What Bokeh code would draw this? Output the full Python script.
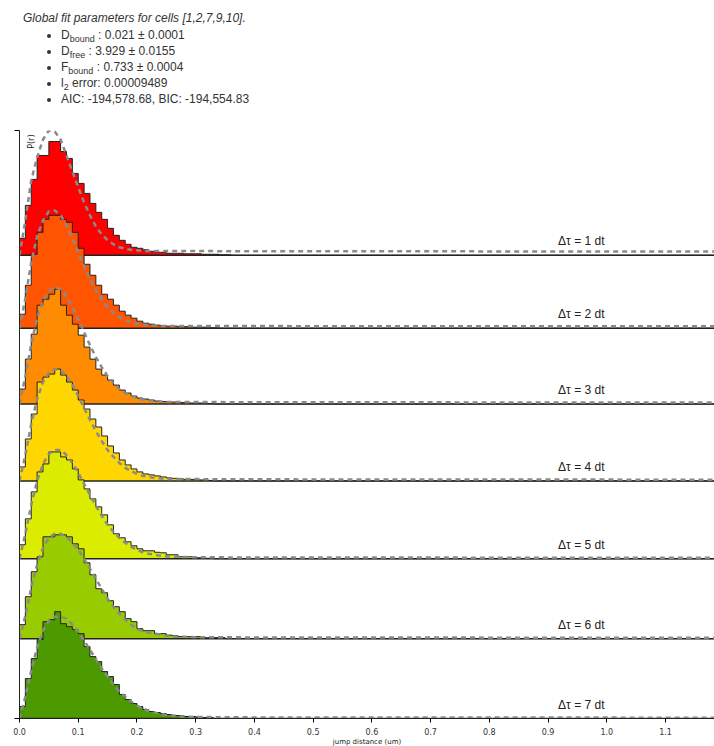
import numpy as np
from bokeh.plotting import figure
from bokeh.models import Div, Label, FixedTicker, NumeralTickFormatter
from bokeh.layouts import column
from bokeh.embed import file_html
from bokeh.resources import INLINE

# ---------------- data ----------------
bin_width = 0.01
dt_labels = ["Δτ = 1 dt", "Δτ = 2 dt", "Δτ = 3 dt", "Δτ = 4 dt",
             "Δτ = 5 dt", "Δτ = 6 dt", "Δτ = 7 dt"]
colors = ["#ff0000", "#ff5500", "#ff8c00", "#ffd700", "#dcec00", "#99cc00", "#4c9a00"]
offsets = [464, 391, 315, 238, 160, 80, 0]
x_ticks = [0.0, 0.1, 0.2, 0.3, 0.4, 0.5, 0.6, 0.7, 0.8, 0.9, 1.0, 1.1]

hist_1 = [17, 50, 76, 100, 100, 114, 114, 104, 97, 82, 72, 62, 52, 43, 36, 27, 20, 15,
          11, 8, 7, 5.5, 4, 3, 3, 2, 2, 2, 1.5, 1.5, 1.5, 1, 1, 1, 0.5, 0.5]
hist_2 = [14, 43, 74, 96, 109, 113, 113, 109, 106, 96, 80, 64, 53, 43, 34, 29, 23, 17,
          13, 10, 7, 5, 4, 3, 2.5, 2, 2, 1.5, 1.5, 1, 1, 1, 0.5, 0.5]
hist_3 = [15, 45, 70, 99, 105, 110, 115, 99, 89, 80, 69, 57, 45, 35, 29, 24, 19, 14,
          11, 8, 6, 5, 4, 3, 2.5, 2, 2, 1.5, 1.5, 1, 1, 1, 0.5]
hist_4 = [14, 42, 67, 99, 104, 107, 112, 106, 99, 91, 81, 72, 62, 54, 45, 35, 28, 21,
          16, 12, 9, 7, 6, 5, 4, 3, 2.5, 2, 1.5, 1.5, 1, 1, 0.5]
hist_5 = [14, 40, 67, 87, 95, 107, 107, 102, 99, 90, 79, 70, 60, 52, 44, 34, 25, 21,
          17, 13, 10, 8, 8, 6.5, 6, 4, 4, 2, 2, 2, 1, 0.5, 0.5]
hist_6 = [14, 42, 67, 82, 102, 102, 104, 104, 102, 95, 90, 76, 64, 50, 46, 38, 32, 27,
          20, 17, 10, 8, 8, 5, 5, 3.5, 3, 2, 2, 2, 2, 1, 1, 1, 1]
hist_7 = [12, 40, 60, 79, 97, 99, 107, 95, 92, 89, 85, 72, 62, 57, 47, 42, 34, 24,
          19, 15, 12, 9, 7, 6, 5, 4, 3, 3, 2, 2, 1.5, 1, 1]

model_x = [0.00, 0.01, 0.02, 0.03, 0.04, 0.05, 0.06, 0.07, 0.08, 0.09, 0.10,
           0.11, 0.12, 0.13, 0.14, 0.15, 0.16, 0.17, 0.18, 0.19, 0.20,
           0.21, 0.22, 0.23, 0.24, 0.25, 0.26, 0.27, 0.28, 0.29, 0.30,
           0.4, 0.5, 0.6, 0.7, 0.8, 0.9, 1.0, 1.1, 1.2]
model_1 = [0, 35, 75, 98, 116, 125, 124, 116, 100, 84, 68, 53, 40, 29, 21, 15, 11, 8,
           6.5, 5.5, 5, 4.5, 4.2, 4.2, 4.2, 4.2, 4.2, 4.2, 4.2, 4.2, 4.2,
           4.1, 4, 4, 4, 3.9, 3.9, 3.8, 3.8, 3.7]
model_2 = [0, 30, 66, 92, 108, 117, 118, 113, 103, 90, 76, 62, 49, 38, 29, 21, 15, 11,
           8, 6, 4.5, 3.5, 3, 2.5, 2.2, 2.2, 2.2, 2.2, 2.2, 2.2, 2.2,
           2.1, 2, 2, 2, 2, 1.9, 1.9, 1.8, 1.8]
model_3 = [0, 28, 60, 86, 103, 113, 117, 115, 108, 97, 85, 72, 59, 47, 37, 28, 21, 15,
           11, 8, 6, 4.5, 3.5, 3, 2.5, 2, 2, 2, 2, 2, 2,
           1.8, 1.8, 1.7, 1.7, 1.6, 1.6, 1.5, 1.5, 1.5]
model_4 = [0, 26, 57, 82, 99, 108, 112, 111, 105, 96, 85, 73, 61, 50, 40, 31, 24, 18,
           13, 10, 7, 5, 4, 3, 2.5, 2, 2, 2, 1.8, 1.8, 1.8,
           1.6, 1.5, 1.5, 1.4, 1.4, 1.3, 1.3, 1.2, 1.2]
model_5 = [0, 25, 54, 78, 95, 105, 109, 109, 104, 96, 86, 75, 64, 53, 43, 34, 27, 21,
           16, 12, 9, 6.5, 5, 4, 3, 2.5, 2, 2, 1.8, 1.6, 1.5,
           1.3, 1.3, 1.2, 1.2, 1.1, 1.1, 1, 1, 1]
model_6 = [0, 23, 51, 74, 91, 101, 105, 105, 102, 96, 89, 80, 70, 60, 50, 40, 32, 25,
           19, 14, 10, 7.5, 6, 5, 4, 3, 2.5, 2, 1.8, 1.6, 1.5,
           1.2, 1.2, 1.1, 1.1, 1, 1, 1, 0.9, 0.9]
model_7 = [0, 22, 48, 71, 88, 98, 102, 102, 100, 94, 87, 78, 69, 59, 50, 42, 34, 27,
           22, 17, 13, 10, 7.5, 6, 4.5, 3.5, 3, 2.5, 2, 1.8, 1.5,
           1.1, 1, 1, 1, 0.9, 0.9, 0.9, 0.8, 0.8]

hists = [hist_1, hist_2, hist_3, hist_4, hist_5, hist_6, hist_7]
models = [model_1, model_2, model_3, model_4, model_5, model_6, model_7]
n_bins = 120
y_top = 589
x_end = 1.1834

# ---------------- header text ----------------
sub = 'style="font-size:9px;line-height:0;vertical-align:-3px;"'
li = 'style="height:16px;line-height:16px;"'
header = Div(
    width=714, height=108,
    text=f"""
<div style="box-sizing:border-box;height:108px;overflow:hidden;padding-top:5px;
font-family:'Liberation Sans',Arial,sans-serif;font-size:12px;color:#333;line-height:16px;">
<div style="padding-left:18px;font-style:italic;height:16px;">Global fit parameters for cells [1,2,7,9,10].</div>
<ul style="margin:1px 0 0 0;padding-left:56px;">
<li {li}>D<sub {sub}>bound</sub> : 0.021 &plusmn; 0.0001</li>
<li {li}>D<sub {sub}>free</sub> : 3.929 &plusmn; 0.0155</li>
<li {li}>F<sub {sub}>bound</sub> : 0.733 &plusmn; 0.0004</li>
<li {li}>l<sub {sub}>2</sub> error: 0.00009489</li>
<li {li}>AIC: -194,578.68, BIC: -194,554.83</li>
</ul>
</div>
""")

# ---------------- figure ----------------
p = figure(width=714, height=630, x_range=(0, x_end), y_range=(0, y_top),
           output_backend="svg", toolbar_location=None,
           min_border_left=19, min_border_right=0, min_border_top=12, min_border_bottom=29)
p.outline_line_color = None
p.xgrid.visible = False
p.ygrid.visible = False
p.background_fill_color = "white"

for k in range(7):
    h = np.zeros(n_bins)
    h[:len(hists[k])] = hists[k]
    edges = np.arange(n_bins + 1) * bin_width
    xs = np.concatenate([[0.0], np.repeat(edges, 2)[1:-1]])
    ys = np.concatenate([[0.0], np.repeat(h, 2)])
    base = offsets[k]
    p.varea(x=xs, y1=np.full(len(xs), base), y2=ys + base, fill_color=colors[k])
    p.line(xs, ys + base, line_color="#222222", line_width=1)
    p.line([0, x_end], [base, base], line_color="#222222", line_width=1.5)
    p.line(model_x, np.array(models[k]) + base, line_color="#8a8a8a",
           line_width=2.5, line_dash="5 4")
    p.add_layout(Label(x=0.917, y=base, y_offset=7, text=dt_labels[k],
                       text_font="Liberation Sans", text_font_size="12px",
                       text_color="#222222", text_baseline="bottom", text_align="left"))

# axes
p.xaxis.ticker = FixedTicker(ticks=x_ticks)
p.xaxis.formatter = NumeralTickFormatter(format="0.0")
p.xaxis.major_label_text_font = "DejaVu Sans"
p.xaxis.major_label_text_font_size = "8px"
p.xaxis.major_label_text_color = "#333333"
p.xaxis.major_tick_out = 4
p.xaxis.major_tick_in = 0
p.xaxis.minor_tick_out = 0
p.xaxis.minor_tick_in = 0
p.xaxis.major_label_standoff = 5
p.xaxis.axis_line_color = "#222222"
p.xaxis.axis_label = "jump distance (um)"
p.xaxis.axis_label_text_font = "DejaVu Sans"
p.xaxis.axis_label_text_font_size = "7px"
p.xaxis.axis_label_text_font_style = "normal"
p.xaxis.axis_label_text_color = "#222222"
p.xaxis.axis_label_standoff = 0

p.yaxis.ticker = FixedTicker(ticks=[0, y_top])
p.yaxis.major_label_overrides = {0: "", y_top: ""}
p.yaxis.major_label_text_color = None
p.yaxis.major_label_text_font_size = "8px"
p.yaxis.major_label_standoff = 0
p.yaxis.major_tick_out = 5
p.yaxis.major_tick_in = 0
p.yaxis.minor_tick_out = 0
p.yaxis.minor_tick_in = 0
p.yaxis.axis_line_color = "#222222"

p.add_layout(Label(x=0, y=y_top, x_offset=7, y_offset=-4, angle=np.pi / 2,
                   text="P(r)", text_font="DejaVu Sans", text_font_size="8px",
                   text_color="#222222", text_align="right", text_baseline="top"))

layout = column(header, p, spacing=0)
open("out.html", "w").write(file_html(layout, INLINE))
